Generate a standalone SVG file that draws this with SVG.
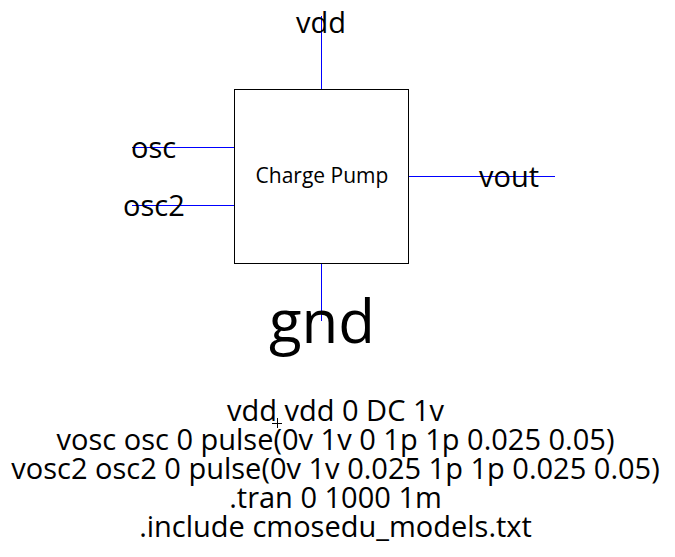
<svg xmlns="http://www.w3.org/2000/svg" width="675" height="557" viewBox="0 0 675 557">
<style>
text{font-family:"Open Sans","Noto Sans",sans-serif;fill:#000}
.w{stroke:#0000ff;stroke-width:1;fill:none}
.lbl{font-size:29px}
.net{font-size:29px;text-anchor:middle}
</style>
<rect width="675" height="557" fill="#fff"/>
<g id="wires">
<line class="w" x1="321.5" y1="16" x2="321.5" y2="89"/>
<line class="w" x1="132" y1="147.5" x2="234" y2="147.5"/>
<line class="w" x1="132" y1="205.5" x2="234" y2="205.5"/>
<line class="w" x1="408" y1="176.5" x2="555" y2="176.5"/>
<line class="w" x1="321.5" y1="263" x2="321.5" y2="321"/>
</g>
<g id="chargepump">
<rect x="234.5" y="89.5" width="174" height="174" fill="none" stroke="#000" stroke-width="1"/>
<text x="322" y="183" font-size="21" text-anchor="middle">Charge Pump</text>
</g>
<g id="vdd"><text class="net" x="321" y="33">vdd</text></g>
<g id="osc"><text class="lbl" x="131" y="158">osc</text></g>
<g id="osc2"><text class="lbl" x="123" y="216">osc2</text></g>
<g id="vout"><text class="lbl" x="479" y="187">vout</text></g>
<g id="gnd"><text x="322" y="343" font-size="60" text-anchor="middle">gnd</text></g>
<g id="spice">
<text class="net" x="335.5" y="421">vdd vdd 0 DC 1v</text>
<text class="net" x="335.5" y="450">vosc osc 0 pulse(0v 1v 0 1p 1p 0.025 0.05)</text>
<text class="net" x="335.5" y="479">vosc2 osc2 0 pulse(0v 1v 0.025 1p 1p 0.025 0.05)</text>
<text class="net" x="335.5" y="508">.tran 0 1000 1m</text>
<text class="net" x="335.5" y="537">.include cmosedu_models.txt</text>
<path d="M272 423.5H282M277.5 418V428" stroke="#000" stroke-width="1" fill="none"/>
</g>
</svg>
